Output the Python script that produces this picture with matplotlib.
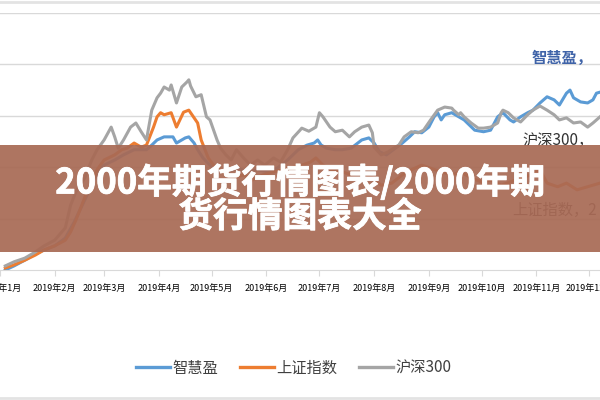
import matplotlib
matplotlib.use("Agg")
import matplotlib.pyplot as plt
import matplotlib.patheffects as pe
from matplotlib.lines import Line2D
from matplotlib.patches import Rectangle

plt.rcParams['font.family'] = ['Noto Sans CJK SC', 'DejaVu Sans']

# day of year (2019) and cumulative return (%)
zhy_days = [3, 8, 14, 20, 25, 31, 37, 42, 48, 52, 56, 59, 65, 70, 76, 80, 83, 86, 89, 93, 96, 98,
            100, 103, 105, 107, 110, 112, 115, 119, 124, 129, 135, 140, 146, 152, 157, 163, 169,
            174, 178, 180, 182, 185, 190, 194, 199, 205, 209, 212, 215, 219, 224, 228, 232, 235,
            239, 243, 246, 248, 250, 252, 256, 260, 263, 269, 274, 278, 282, 285, 289, 291, 295,
            299, 302, 306, 310, 314, 317, 321, 323, 325, 329, 333, 336, 338, 340]
zhy_vals = [0.0, 0.8, 1.9, 3.1, 3.9, 4.7, 6.2, 9.3, 13.6, 16.5, 19.5, 20.4, 21.4, 22.4, 23.4, 23.4,
            23.4, 24.3, 25.3, 25.9, 25.9, 25.9, 24.7, 25.3, 25.7, 25.9, 24.7, 23.4, 21.8, 20.4,
            19.1, 19.1, 19.8, 19.1, 19.5, 19.1, 19.8, 21.4, 23.4, 24.3, 24.7, 25.3, 24.3, 23.7,
            23.4, 23.4, 23.7, 25.3, 25.7, 24.7, 23.0, 22.4, 23.7, 24.7, 25.9, 26.9, 26.7, 27.8,
            29.8, 30.6, 29.2, 30.2, 30.6, 29.8, 29.2, 27.2, 26.9, 27.2, 29.8, 30.6, 29.2, 28.8,
            29.8, 30.6, 31.1, 32.5, 33.7, 33.1, 32.1, 34.4, 35.0, 33.5, 32.7, 32.5, 33.1, 34.4, 34.6]

sz_days = [3, 8, 14, 20, 25, 31, 37, 40, 43, 46, 49, 52, 55, 59, 65, 69, 72, 76, 80, 83, 87, 89,
           91, 93, 97, 100, 104, 107, 110, 112, 114, 118, 121, 126, 132, 138, 143, 149, 155, 160,
           166, 171, 176, 179, 183, 188, 194, 199, 205, 211, 216, 222, 228, 233, 239, 244, 250,
           256, 261, 267, 273, 278, 284, 289, 295, 301, 306, 310, 316, 321, 327, 333, 340]
sz_vals = [0.4, 1.0, 1.9, 2.9, 3.9, 4.7, 5.8, 7.4, 9.7, 12.3, 15.0, 16.9, 19.5, 21.4, 22.4, 23.4,
           23.7, 24.7, 23.9, 24.3, 27.8, 29.8, 30.6, 30.2, 30.6, 27.8, 30.7, 31.1, 29.6, 28.6,
           25.3, 21.8, 20.4, 19.1, 17.9, 18.5, 17.5, 18.5, 19.1, 19.5, 20.0, 20.4, 21.0, 21.8,
           20.4, 19.5, 19.1, 18.5, 19.1, 17.9, 16.5, 16.9, 18.5, 19.5, 20.4, 19.8, 19.1, 18.5,
           19.1, 17.9, 17.1, 17.5, 16.5, 17.1, 17.9, 18.5, 19.5, 16.9, 16.2, 16.9, 15.6, 16.2, 16.9]

hs_days = [3, 8, 14, 20, 25, 31, 37, 40, 43, 48, 52, 55, 59, 63, 65, 67, 70, 74, 77, 80, 83, 86,
           89, 91, 93, 96, 97, 100, 103, 106, 107, 108, 111, 114, 117, 119, 123, 125, 128, 131,
           134, 138, 142, 146, 150, 155, 159, 163, 166, 170, 171, 175, 179, 181, 183, 187, 190,
           194, 198, 201, 205, 209, 211, 212, 216, 220, 224, 226, 229, 233, 237, 240, 244, 248,
           252, 256, 257, 260, 261, 263, 267, 271, 274, 278, 282, 284, 285, 288, 291, 295, 299,
           302, 306, 310, 314, 317, 321, 325, 329, 333, 336, 340]
hs_vals = [0.8, 1.6, 2.3, 3.5, 4.7, 5.8, 8.2, 12.6, 15.2, 17.9, 21.4, 23.4, 25.3, 27.8, 25.9,
           23.7, 25.3, 27.8, 28.6, 26.9, 25.3, 31.1, 33.5, 34.4, 35.6, 35.0, 36.0, 32.5, 35.6,
           36.6, 37.0, 35.8, 33.7, 34.1, 29.8, 29.2, 25.3, 23.7, 22.4, 21.4, 23.4, 21.8, 20.4,
           21.4, 20.4, 21.8, 21.0, 23.4, 25.7, 27.2, 27.6, 27.0, 27.8, 30.6, 29.8, 27.8, 26.9,
           27.2, 25.9, 26.9, 27.8, 28.2, 26.7, 23.9, 22.4, 23.0, 23.9, 24.3, 25.9, 26.9, 26.7,
           27.2, 29.2, 31.1, 31.7, 31.5, 31.1, 30.2, 30.6, 29.8, 28.6, 27.6, 27.6, 27.8, 28.6,
           30.6, 31.1, 30.6, 29.6, 28.8, 30.2, 31.1, 31.9, 31.1, 30.2, 29.2, 29.6, 28.6, 28.8,
           27.8, 28.6, 29.8]

month_days = [0, 31, 59, 90, 120, 151, 181, 212, 243, 273, 304, 334]
month_labels = ["2019年%d月" % m for m in range(1, 13)]
grid_vals = [10, 20, 30, 40, 50]

series_names = ["智慧盈", "上证指数", "沪深300"]
colors = ["#5B9BD5", "#ED7D31", "#A5A5A5"]

fig = plt.figure(figsize=(6, 4), dpi=100)
ax = fig.add_axes([0, 0.325, 1, 0.6425])

for v in grid_vals:
    ax.axhline(v, color="#D9D9D9", lw=1.0, zorder=0)

ax.plot(zhy_days, zhy_vals, color=colors[0], lw=2.2, zorder=2)
ax.plot(sz_days, sz_vals, color=colors[1], lw=2.2, zorder=3)
ax.plot(hs_days, hs_vals, color=colors[2], lw=2.2, zorder=4)

ax.text(301, 41.2, "智慧盈，", color="#3F63A8", fontsize=11, fontweight="bold", va="center")
ax.text(296, 25.3, "沪深300，", color="#333333", fontsize=11, va="center")
ax.text(290, 11.5, "上证指数，2", color="#404040", fontsize=11, va="center")

ax.set_xlim(2.8, 340)
ax.set_ylim(0, 50)
for side in ["top", "left", "right"]:
    ax.spines[side].set_visible(False)
ax.spines["bottom"].set_color("#D9D9D9")
ax.set_yticks([])
ax.set_xticks(month_days)
ax.set_xticklabels(month_labels, fontsize=6.5, color="black")
ax.tick_params(axis="x", length=4, color="#D9D9D9", pad=6)

handles = [Line2D([], [], color=c, lw=2.4) for c in colors]
fig.legend(handles, series_names, loc="center", bbox_to_anchor=(0.49, 0.08), ncol=3,
           frameon=False, fontsize=11, handlelength=2.2, handletextpad=0.2,
           columnspacing=1.4, labelcolor="#404040")

fig.add_artist(Line2D([0, 1], [0.996, 0.996], color="#E3E3E3", lw=2))
fig.add_artist(Line2D([0, 1], [0.005, 0.005], color="#E3E3E3", lw=2))

fig.patches.append(Rectangle((0, 0.37), 1, 0.2675, transform=fig.transFigure,
                             facecolor="#A86A55", alpha=0.93, edgecolor="none", zorder=5))
fig.text(0.5, 0.5025, "2000年期货行情图表/2000年期\n货行情图表大全", color="white",
         fontsize=25, fontweight="bold", ha="center", va="center", linespacing=0.95,
         multialignment="center", zorder=6,
         path_effects=[pe.withStroke(linewidth=0.6, foreground="white")])

fig.savefig("out.png", dpi=100)
